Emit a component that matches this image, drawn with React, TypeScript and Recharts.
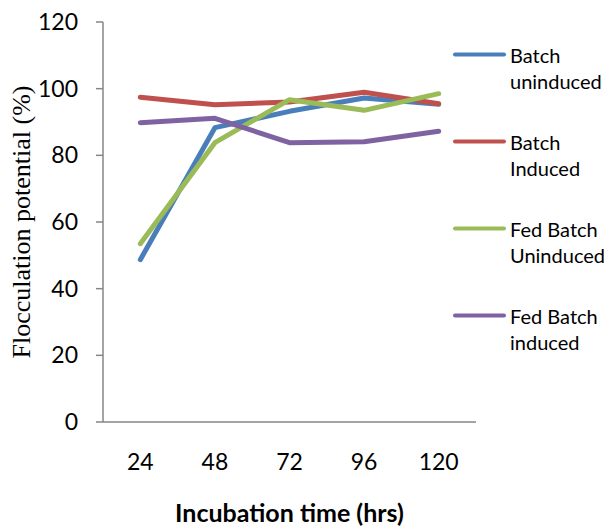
import React from 'react';
import { LineChart, Line, XAxis, YAxis, Legend } from 'recharts';

const categories = ['24', '48', '72', '96', '120'];
const batchUninduced = [48.7, 88.3, 93.2, 97.2, 95.3];
const batchInduced = [97.4, 95.2, 96.0, 98.9, 95.5];
const fedBatchUninduced = [53.5, 83.8, 96.7, 93.5, 98.5];
const fedBatchInduced = [89.8, 91.1, 83.8, 84.1, 87.2];
const seriesNames = ['Batch uninduced', 'Batch Induced', 'Fed Batch Uninduced', 'Fed Batch induced'];
const seriesColors = ['#4a7ebb', '#c0504d', '#9bbb59', '#7f62a1'];
const yTicks = [0, 20, 40, 60, 80, 100, 120];

const seriesValues = [batchUninduced, batchInduced, fedBatchUninduced, fedBatchInduced];
const data = categories.map((c, i) => {
  const row: Record<string, number | string> = { idx: i + 1, label: c };
  seriesValues.forEach((vals, s) => {
    row['s' + s] = vals[i];
  });
  return row;
});
const centerTicks = categories.map((_, i) => i + 1);
const boundaryTicks = categories.map((_, i) => i + 0.5).concat([categories.length + 0.5]);
const xDomain = [0.5, categories.length + 0.5];

const AXIS = '#868686';
const SANS = 'Lato, "Open Sans", sans-serif';

const renderLegend = (props: any) => {
  const payload = [...(props.payload || [])].sort(
    (a: any, b: any) => seriesNames.indexOf(String(a.value)) - seriesNames.indexOf(String(b.value))
  );
  return (
    <div style={{ fontFamily: SANS, fontSize: 20, lineHeight: '26px', color: '#000' }}>
      {payload.map((e: any, i: number) => {
        const name = String(e.value);
        const k = name.lastIndexOf(' ');
        return (
          <div key={i} style={{ display: 'flex', height: 87 }}>
            <svg width={59} height={26} style={{ flex: 'none' }}>
              <line x1={4} x2={53} y1={12.5} y2={12.5} stroke={e.color} strokeWidth={4} strokeLinecap="round" />
            </svg>
            <div style={{ whiteSpace: 'nowrap' }}>
              {name.slice(0, k)}
              <br />
              {name.slice(k + 1)}
            </div>
          </div>
        );
      })}
    </div>
  );
};

export default function App() {
  return (
    <div style={{ position: 'absolute', left: 0, top: 0, width: 604, height: 529, background: '#fff' }}>
      <LineChart
        width={604}
        height={529}
        data={data}
        margin={{ top: 22, right: 128, bottom: 0, left: 0 }}
        style={{ fontFamily: SANS }}
      >
        <YAxis
          type="number"
          domain={[0, 120]}
          ticks={yTicks}
          interval={0}
          width={103}
          tickSize={7}
          tickMargin={18}
          axisLine={{ stroke: AXIS, strokeWidth: 1.5 }}
          tickLine={{ stroke: AXIS, strokeWidth: 1.5 }}
          tick={{ fill: '#000', fontSize: 23, fontFamily: SANS }}
          label={{
            value: 'Flocculation potential (%)',
            angle: -90,
            position: 'insideLeft',
            offset: 21,
            style: { textAnchor: 'middle', fontFamily: '"Liberation Serif", "Times New Roman", serif', fontSize: 26, fill: '#000' },
          }}
        />
        <XAxis
          dataKey="idx"
          type="number"
          domain={xDomain}
          ticks={boundaryTicks}
          interval={0}
          height={7}
          tickSize={7}
          tick={false}
          axisLine={{ stroke: AXIS, strokeWidth: 1.5 }}
          tickLine={{ stroke: AXIS, strokeWidth: 1.5 }}
        />
        <XAxis
          xAxisId="lab"
          dataKey="idx"
          type="number"
          domain={xDomain}
          ticks={centerTicks}
          interval={0}
          height={100}
          tickMargin={19}
          axisLine={false}
          tickLine={false}
          tickFormatter={(v: number) => categories[v - 1] ?? ''}
          tick={{ fill: '#000', fontSize: 23, fontFamily: SANS }}
          label={{
            value: 'Incubation time (hrs)',
            position: 'insideBottom',
            offset: 7,
            style: { fontFamily: SANS, fontWeight: 700, fontSize: 25, fill: '#000' },
          }}
        />
        <Legend
          layout="vertical"
          align="center"
          verticalAlign="middle"
          content={renderLegend}
          wrapperStyle={{ left: 451, top: 41.5, width: 153, height: 'auto' }}
        />
        {seriesNames.map((n, s) => (
          <Line
            key={n}
            name={n}
            dataKey={'s' + s}
            stroke={seriesColors[s]}
            strokeWidth={5}
            strokeLinecap="round"
            strokeLinejoin="round"
            dot={false}
            activeDot={false}
            isAnimationActive={false}
          />
        ))}
      </LineChart>
    </div>
  );
}
